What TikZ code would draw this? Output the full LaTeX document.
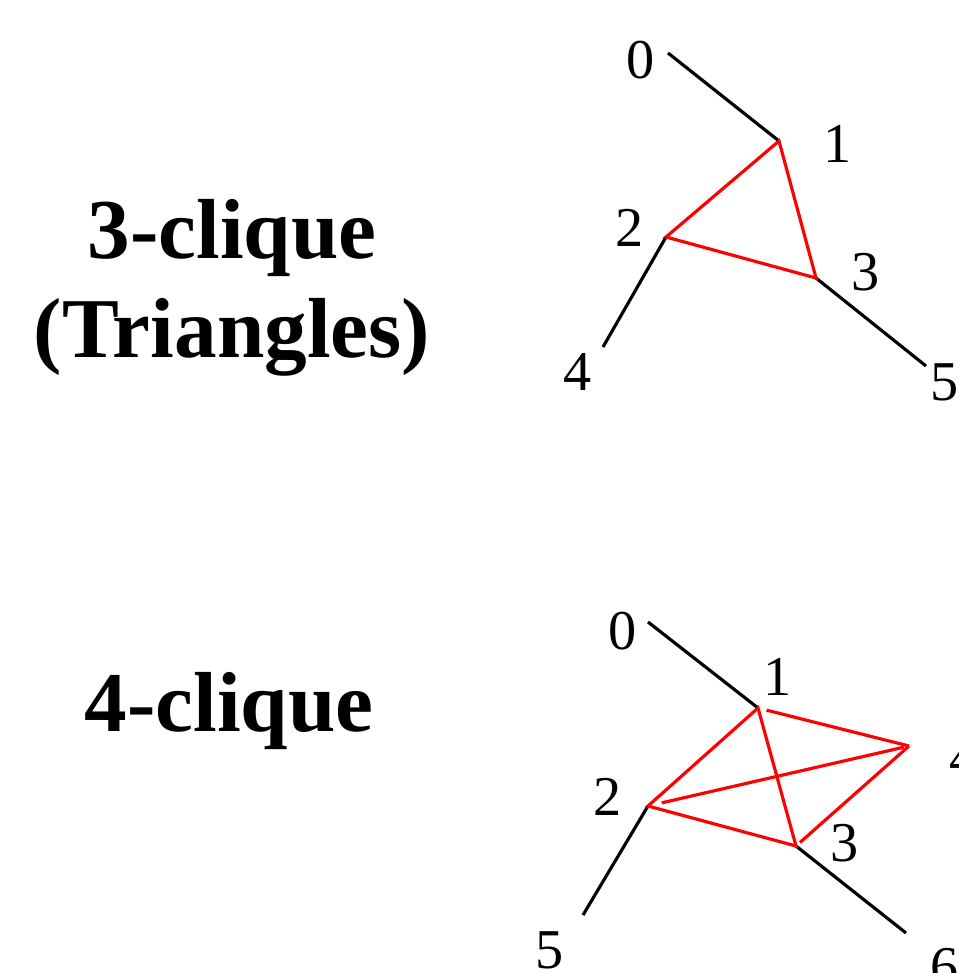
\documentclass[tikz,border=0pt]{standalone}
\usepackage{fontspec}
\setmainfont{Liberation Serif}
\begin{document}
\begin{tikzpicture}[x=0.02cm,y=-0.02cm,
    tail/.style={line width=1.8pt,black},
    clq/.style={line width=1.8pt,red},
    vlab/.style={inner sep=0pt,font=\fontsize{32}{38}\selectfont},
    title/.style={align=center,inner sep=0pt,font=\fontsize{48.5}{56}\selectfont\bfseries}]
    \useasboundingbox (0,0) rectangle (959,973);
    % 3-clique
    \node[title] (t3) at (232,288) {3-clique\\(Triangles)};
    \coordinate (a0) at (668,53);
    \coordinate (a1) at (779,141);
    \coordinate (a2) at (666,237);
    \coordinate (a3) at (816,278);
    \coordinate (a4) at (603,347);
    \coordinate (a5) at (926,366);
    \draw[tail] (a0) -- (a1);
    \draw[tail] (a2) -- (a4);
    \draw[tail] (a3) -- (a5);
    \draw[clq] (a1) -- (a2) -- (a3) -- cycle;
    \node[vlab] (la0) at (641,60) {0};
    \node[vlab] (la1) at (838,144) {1};
    \node[vlab] (la2) at (630,228) {2};
    \node[vlab] (la3) at (866,272) {3};
    \node[vlab] (la4) at (578,372) {4};
    \node[vlab] (la5) at (945,382) {5};
    % 4-clique
    \node[title] (t4) at (229,711) {4-clique};
    \coordinate (b0) at (648,622);
    \coordinate (b1) at (758,708);
    \coordinate (b2) at (648,806);
    \coordinate (b3) at (796,846);
    \coordinate (b4) at (909,746);
    \coordinate (b5) at (583,915);
    \coordinate (b6) at (906,933);
    \draw[tail] (b0) -- (b1);
    \draw[tail] (b2) -- (b5);
    \draw[tail] (b3) -- (b6);
    \draw[clq] (b1) -- (b2) -- (b3) -- cycle;
    \draw[clq,shorten <=5pt] (b1) -- (b4);
    \draw[clq,shorten <=8pt,shorten >=3pt] (b2) -- (b4);
    \draw[clq,shorten <=3pt] (b3) -- (b4);
    \node[vlab] (lb0) at (623,631) {0};
    \node[vlab] (lb1) at (778,677) {1};
    \node[vlab] (lb2) at (608,797) {2};
    \node[vlab] (lb3) at (845,843) {3};
    \node[vlab] (lb4) at (964,758) {4};
    \node[vlab] (lb5) at (550,950) {5};
    \node[vlab] (lb6) at (945,967) {6};
\end{tikzpicture}
\end{document}
